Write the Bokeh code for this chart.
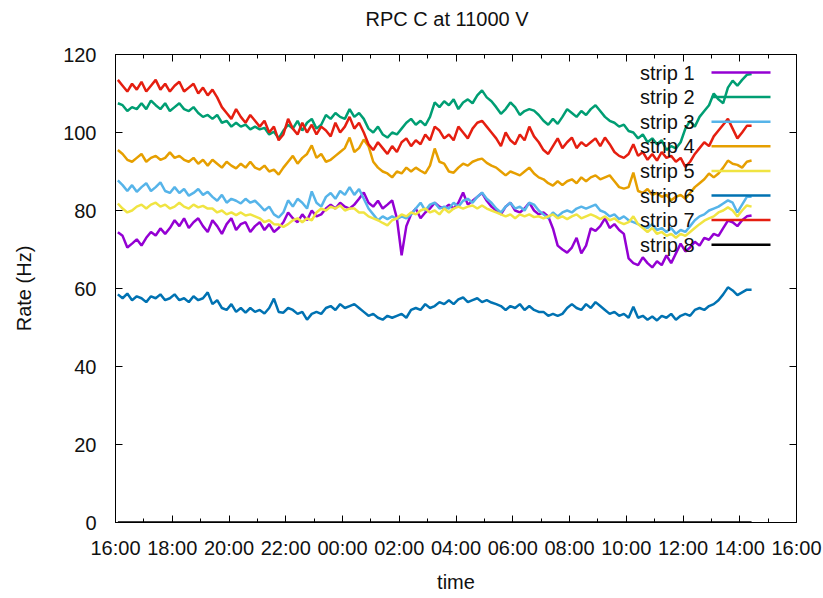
from bokeh.plotting import figure
from bokeh.models import FixedTicker, LinearAxis, BoxAnnotation, Label, Range1d
from bokeh.embed import file_html
from bokeh.resources import INLINE

FONT = "Liberation Sans"

# Axis ticks (hours after 16:00) and their labels
tick_hours = [0, 2, 4, 6, 8, 10, 12, 14, 16, 18, 20, 22, 24]
minor_hours = [1, 3, 5, 7, 9, 11, 13, 15, 17, 19, 21, 23]
tick_labels = ["16:00", "18:00", "20:00", "22:00", "00:00", "02:00", "04:00",
               "06:00", "08:00", "10:00", "12:00", "14:00", "16:00"]
rate_ticks = [0, 20, 40, 60, 80, 100, 120]

# Sample times: every 10 minutes from 16:05 to 14:25 next day
minutes = list(range(5, 5 + 10 * 135, 10))
hours = [m / 60 for m in minutes]

strip1 = [
    74.4, 73.5, 70.5, 71.5, 72.6, 71.0, 73.0, 74.5, 73.6, 75.4,
    74.0, 75.5, 77.5, 76.0, 78.0, 75.5, 77.0, 78.0, 76.0, 74.5,
    77.5, 76.0, 74.0, 76.5, 78.0, 75.0, 76.5, 77.0, 74.5, 76.0,
    77.0, 75.0, 76.5, 74.5, 75.5, 77.0, 79.5, 78.0, 77.0, 79.0,
    77.5, 80.0, 78.5, 79.0, 80.5, 81.5, 80.5, 82.0, 81.0, 80.5,
    81.5, 83.0, 84.6, 82.0, 81.0, 82.5, 80.5, 81.5, 82.6, 78.0,
    68.5, 76.0, 79.0, 80.5, 78.0, 79.5, 80.5, 82.0, 81.0, 80.5,
    81.5, 80.5, 82.0, 84.6, 81.5, 82.5, 83.5, 84.5, 82.5, 81.0,
    80.0, 79.0, 81.0, 82.0, 80.0, 79.5, 80.5, 82.0, 80.0, 79.0,
    79.5, 78.5, 75.4, 71.0, 70.0, 69.2, 70.5, 73.0, 69.0, 71.0,
    75.4, 74.8, 76.0, 78.0, 75.5, 76.5, 75.0, 74.0, 67.7, 66.5,
    66.0, 68.0, 66.5, 65.4, 67.0, 66.0, 68.5, 66.5, 69.0, 71.5,
    69.5, 70.5, 72.0, 71.0, 73.0, 72.5, 74.0, 73.5, 75.5, 77.4,
    77.0, 76.0, 77.5, 78.5, 78.7,
]
strip2 = [
    107.5, 107.0, 105.5, 106.5, 106.0, 107.5, 106.0, 108.2, 107.0, 106.0,
    107.5, 105.5, 106.5, 107.5, 106.0, 105.5, 106.5, 105.0, 104.0, 104.5,
    103.5, 104.5, 102.5, 103.0, 101.5, 102.5, 101.5, 102.0, 100.8, 101.5,
    100.8, 101.2, 99.5, 100.2, 98.5, 100.5, 102.0, 101.0, 103.0, 100.5,
    102.5, 103.5, 101.0, 102.0, 104.5, 103.5, 105.0, 104.0, 103.5, 106.0,
    104.0, 105.0, 103.5, 101.0, 100.0, 101.5, 99.5, 98.7, 100.0, 99.5,
    101.0, 102.5, 103.5, 102.0, 103.0, 101.8, 104.0, 107.7, 106.5, 108.0,
    107.0, 108.5, 106.0, 107.7, 108.5, 107.5, 109.5, 110.8, 109.0, 108.0,
    106.5, 104.8, 106.0, 107.7, 106.5, 104.5, 105.5, 106.0, 105.6, 104.5,
    103.0, 102.0, 103.5, 102.2, 104.0, 106.0, 105.0, 104.0, 105.5, 104.5,
    106.0, 107.0, 105.5, 104.0, 103.0, 102.5, 101.5, 102.0, 100.4, 100.0,
    98.5, 99.5, 97.5, 98.5, 97.0, 98.0, 95.5, 96.5, 95.9, 97.5,
    101.0, 103.0, 101.5, 104.0, 105.5, 107.0, 110.0, 108.5, 107.5, 111.5,
    113.3, 112.0, 113.5, 114.8, 115.0,
]
strip3 = [
    87.7, 86.5, 85.0, 86.5, 84.8, 86.0, 87.0, 85.0, 86.0, 87.2,
    85.0, 84.5, 86.0, 84.5, 85.5, 83.8, 84.5, 85.5, 84.0, 84.8,
    83.5, 82.5, 84.0, 82.0, 83.0, 82.5, 81.8, 83.0, 82.0, 82.5,
    81.3, 80.0, 81.0, 79.0, 78.2, 79.5, 82.6, 81.0, 83.0, 82.0,
    80.5, 84.9, 82.0, 81.0, 83.5, 84.5, 83.0, 85.0, 84.0, 86.0,
    84.0, 85.5, 83.0, 80.5, 79.0, 77.5, 78.5, 77.8, 78.5, 77.8,
    78.5, 78.0, 79.0, 80.5, 82.0, 80.0, 81.5, 82.0, 80.5, 81.0,
    80.5, 82.0, 81.0, 82.5, 83.0, 82.0, 83.5, 84.6, 83.0, 82.0,
    80.5, 79.5, 81.0, 82.0, 80.5, 81.0, 80.0, 82.0, 81.5, 80.0,
    79.0, 78.0, 79.5, 78.5, 79.5, 80.0, 79.5, 80.5, 81.0, 80.5,
    81.0, 81.5, 80.0, 79.5, 78.5, 79.0, 77.8, 78.5, 77.5, 77.0,
    76.5, 76.0, 75.5, 76.5, 75.0, 75.5, 74.5, 75.5, 74.0, 75.0,
    74.5, 76.0, 77.5, 78.5, 79.0, 80.0, 80.5, 81.0, 81.8, 82.6,
    82.0, 79.5, 81.5, 83.5, 83.5,
]
strip4 = [
    95.5, 94.5, 93.0, 92.5, 93.5, 94.5, 92.5, 93.5, 94.0, 93.0,
    93.5, 94.9, 93.5, 94.0, 93.0, 92.5, 93.5, 92.0, 93.0, 91.5,
    93.0, 92.0, 91.0, 92.5, 91.5, 90.8, 92.0, 91.0, 92.5, 91.0,
    90.5, 91.5, 90.0, 90.5, 89.2, 91.0, 92.5, 94.0, 92.0, 93.5,
    94.5, 96.7, 93.5, 94.5, 92.5, 93.0, 94.0, 95.0, 96.0, 98.7,
    95.0, 96.0, 98.2, 96.5, 92.5, 91.0, 90.0, 89.5, 88.5, 90.0,
    89.5, 91.0, 90.0, 91.0, 90.2, 89.5, 91.5, 95.9, 92.5, 92.0,
    90.0, 89.7, 91.0, 92.0, 91.5, 92.5, 93.0, 93.3, 92.2, 91.5,
    91.0, 90.0, 89.0, 90.0, 89.5, 89.0, 90.0, 91.0, 89.5, 88.5,
    88.0, 87.0, 86.4, 87.5, 86.5, 87.5, 88.0, 87.0, 88.5, 87.5,
    88.5, 89.0, 88.0, 88.5, 89.0, 87.5, 86.0, 85.6, 86.0, 89.7,
    85.0, 84.5, 85.5, 84.0, 84.5, 83.5, 84.0, 82.6, 83.5, 84.0,
    83.0, 84.5, 86.0, 87.0, 88.0, 89.5, 88.5, 89.5, 91.0, 92.8,
    92.0, 91.7, 91.0, 92.5, 92.8,
]
strip5 = [
    81.8, 80.5, 79.5, 80.0, 81.0, 81.5, 80.5, 81.5, 82.0, 81.0,
    81.5, 80.5, 81.0, 82.0, 81.0, 80.5, 81.5, 80.8, 81.2, 80.5,
    80.5, 79.5, 80.0, 79.0, 79.5, 78.8, 79.5, 78.7, 79.0, 78.5,
    78.0, 77.0, 77.5, 76.5, 76.4, 75.8, 76.5, 77.5, 78.0, 77.0,
    78.0, 77.5, 79.5, 80.5, 80.0, 81.0, 80.5, 81.3, 80.0, 80.5,
    80.5, 79.5, 79.5, 78.5, 78.0, 77.5, 76.8, 76.2, 77.5, 78.0,
    79.0, 78.5, 79.5, 79.0, 80.0, 80.5, 79.5, 80.0, 79.0, 80.5,
    79.5, 80.5, 81.0, 80.5, 81.0, 81.3, 80.5, 81.3, 80.5, 80.0,
    79.5, 79.0, 78.5, 79.0, 78.0, 79.0, 78.5, 79.0, 78.3, 78.5,
    78.0, 78.5, 79.0, 78.0, 78.5, 77.8, 78.5, 79.0, 78.0, 78.5,
    79.0, 78.5, 77.8, 78.5, 77.5, 78.0, 77.0, 76.5, 77.0, 78.5,
    76.5, 75.5, 74.5, 75.5, 74.0, 74.5, 73.5, 74.0, 73.0, 74.0,
    73.5, 74.5, 75.5, 76.5, 77.4, 78.0, 78.5, 79.5, 80.0, 80.8,
    80.0, 78.5, 80.0, 81.3, 81.0,
]
strip6 = [
    58.5, 57.5, 58.7, 57.0, 58.0, 57.5, 56.5, 58.0, 57.5, 58.5,
    57.0, 57.5, 58.5, 57.0, 57.5, 56.5, 58.0, 57.0, 57.5, 59.0,
    56.0, 57.0, 55.0, 54.5, 56.0, 54.0, 55.0, 53.8, 55.0, 54.0,
    54.5, 53.6, 55.0, 57.4, 54.0, 53.8, 55.0, 54.5, 53.5, 54.0,
    52.0, 53.5, 54.0, 53.5, 55.0, 55.5, 54.5, 56.0, 55.0, 55.5,
    56.0, 55.0, 54.0, 53.0, 53.5, 52.5, 52.0, 53.0, 52.5, 53.0,
    53.5, 52.5, 54.5, 55.0, 54.5, 56.0, 55.0, 55.5, 56.5, 56.0,
    57.0, 56.0, 57.2, 57.7, 56.5, 57.0, 57.5, 56.5, 57.0, 56.4,
    56.0, 55.5, 54.5, 55.5, 55.0, 56.0, 54.5, 55.5, 54.5, 54.0,
    54.0, 53.0, 53.5, 53.0, 53.5, 55.0, 56.0, 55.0, 54.5, 56.0,
    55.0, 56.5, 55.5, 54.5, 53.5, 54.0, 53.0, 53.5, 52.5, 55.3,
    52.5, 53.0, 52.0, 52.8, 51.8, 53.0, 52.5, 53.5, 52.0, 53.0,
    53.5, 53.0, 54.5, 55.0, 54.5, 55.5, 56.0, 57.0, 58.5, 60.3,
    59.5, 58.3, 59.0, 59.7, 59.7,
]
strip7 = [
    113.5, 112.0, 110.5, 112.5, 111.0, 113.0, 110.5, 112.0, 113.5, 111.0,
    112.5, 110.5, 112.0, 113.0, 110.5, 111.5, 112.5, 110.0, 111.5, 109.5,
    111.0, 109.0, 106.5, 105.0, 103.5, 106.0, 104.0, 102.5, 104.5, 103.0,
    101.5, 103.0, 100.0, 101.5, 98.0, 99.5, 103.5, 101.0, 99.5, 102.5,
    100.0, 102.0, 99.5, 101.5, 100.5, 99.0, 102.5, 100.0, 101.5, 104.0,
    101.0, 102.5, 100.0, 97.0, 95.5, 97.5, 96.0, 94.5, 96.5, 95.0,
    97.5, 98.5, 96.5, 98.0, 97.0, 99.5, 98.0, 101.5, 100.5, 98.5,
    99.5, 98.0, 101.5, 100.0, 98.5, 101.0, 102.5, 103.0, 101.5, 100.0,
    98.5, 96.5, 100.0, 98.0, 97.0, 99.5, 98.0, 101.5, 99.0, 97.5,
    95.5, 94.5, 96.5, 98.5, 96.0, 97.5, 98.7, 96.0, 97.5, 96.5,
    97.5, 98.5, 96.5, 98.7, 97.0, 95.0, 94.0, 93.5, 94.5, 97.0,
    94.0, 95.0, 93.0, 94.5, 92.8, 95.0, 93.5, 94.0, 92.5, 93.5,
    91.2, 92.5, 94.5, 96.0, 97.5, 96.5, 99.0, 100.5, 102.0, 103.5,
    101.0, 98.5, 100.0, 101.7, 101.7,
]
strip8 = [0.0] * len(hours)

names = ["strip 1", "strip 2", "strip 3", "strip 4",
         "strip 5", "strip 6", "strip 7", "strip 8"]
series = [strip1, strip2, strip3, strip4, strip5, strip6, strip7, strip8]
colors = ["#9400d3", "#009e73", "#56b4e9", "#e69f00",
          "#f0e442", "#0072b2", "#e51e10", "#000000"]

p = figure(width=823, height=598, output_backend="svg", toolbar_location=None,
           x_range=Range1d(0, 24), y_range=Range1d(0, 120),
           min_border_left=115, min_border_right=27,
           min_border_top=54, min_border_bottom=76)
p.xgrid.visible = False
p.ygrid.visible = False
p.outline_line_color = "black"
p.outline_line_alpha = 1.0
p.outline_line_width = 1
p.background_fill_color = "white"
p.border_fill_color = "white"

# Title sits in the top margin; the empty second line lifts it away from the frame
p.title.text = "RPC C at 11000 V\n"
p.title.align = "left"
p.title.offset = 250
p.title.standoff = 5
p.title.vertical_align = "bottom"
p.title.text_font = FONT
p.title.text_font_size = "20px"
p.title.text_font_style = "normal"
p.title.text_color = "#111111"

x_ticker = FixedTicker(ticks=tick_hours, minor_ticks=minor_hours)
y_ticker = FixedTicker(ticks=rate_ticks, minor_ticks=[])


def style_axis(ax):
    ax.major_tick_in = 7
    ax.major_tick_out = 0
    ax.minor_tick_in = 4
    ax.minor_tick_out = 0
    ax.major_tick_line_color = "black"
    ax.minor_tick_line_color = "black"
    ax.axis_line_color = "black"
    ax.major_label_text_font = FONT
    ax.major_label_text_font_size = "20px"
    ax.major_label_text_color = "#111111"
    ax.axis_label_text_font = FONT
    ax.axis_label_text_font_size = "20px"
    ax.axis_label_text_font_style = "normal"
    ax.axis_label_text_color = "#111111"


xa = p.xaxis[0]
xa.ticker = x_ticker
xa.major_label_overrides = dict(zip(tick_hours, tick_labels))
style_axis(xa)
xa.major_label_standoff = 14
xa.axis_label = "time"
xa.axis_label_standoff = 9

ya = p.yaxis[0]
ya.ticker = y_ticker
style_axis(ya)
ya.major_label_standoff = 19
ya.axis_label = "Rate (Hz)"
ya.axis_label_standoff = 25

# Mirrored tick marks on the top and right edges (no labels)
top = LinearAxis(ticker=x_ticker, major_label_overrides={t: "" for t in tick_hours})
style_axis(top)
top.axis_line_color = None
top.major_label_standoff = 0
p.add_layout(top, "above")
right = LinearAxis(ticker=y_ticker, major_label_overrides={t: "" for t in rate_ticks})
style_axis(right)
right.axis_line_color = None
right.major_label_standoff = 0
p.add_layout(right, "right")

for vals, col in zip(series, colors):
    p.line(hours, vals, line_color=col, line_width=2.5)

# Key in the upper right: text right-aligned, sample line to its right
frame_h = 468
key_first = 18         # first row centre, px below the frame top
row_h = 24.6
text_right = 579       # px from the frame's left edge
sample_left, sample_right = 596, 655
for k, (n, col) in enumerate(zip(names, colors)):
    yc = frame_h - key_first - row_h * k
    p.add_layout(BoxAnnotation(
        left=sample_left, right=sample_right, bottom=yc - 1.25, top=yc + 1.25,
        left_units="screen", right_units="screen",
        bottom_units="screen", top_units="screen",
        fill_color=col, fill_alpha=1.0, line_color=None, level="annotation"))
    p.add_layout(Label(
        x=text_right, y=yc, x_units="screen", y_units="screen", text=n,
        text_align="right", text_baseline="middle",
        text_font=FONT, text_font_size="20px", text_color="#111111"))

open("out.html", "w").write(file_html(p, INLINE))
